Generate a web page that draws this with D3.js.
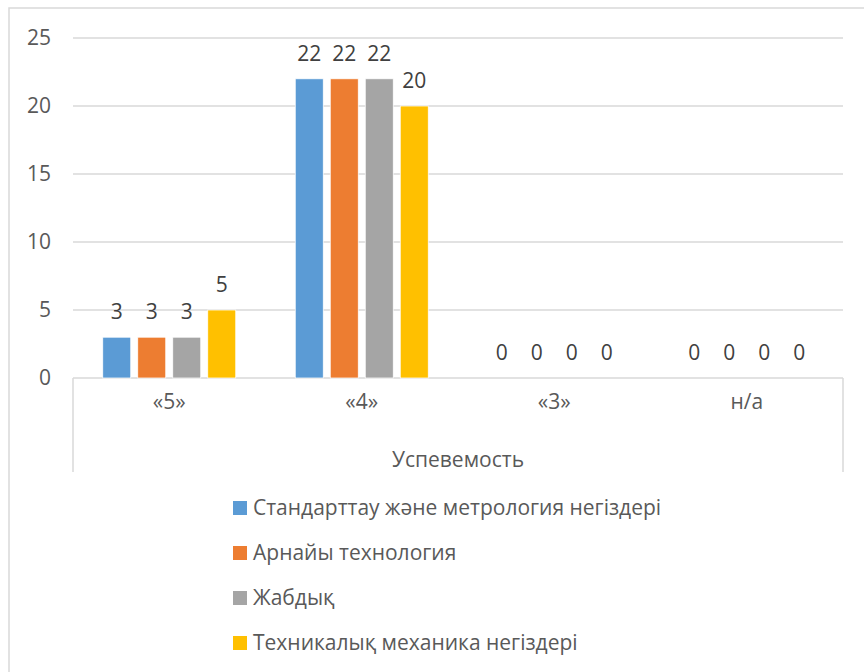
<!DOCTYPE html>
<html>
<head>
<meta charset="utf-8">
<script src="https://cdn.jsdelivr.net/npm/d3@7"></script>
<style>
  body { margin: 0; background: #fff; }
  text { font-family: "Open Sans", sans-serif; fill: #595959; }
</style>
</head>
<body>
<div id="chart"></div>
<script>
// Data
const categories = ["«5»", "«4»", "«3»", "н/а"];
const seriesNames = [
    "Стандарттау және метрология негіздері",
    "Арнайы технология",
    "Жабдық",
    "Техникалық механика негіздері"
];
const standardValues = [3, 22, 0, 0];
const arnaiValues = [3, 22, 0, 0];
const zhabdykValues = [3, 22, 0, 0];
const mechanicsValues = [5, 20, 0, 0];
const yTicks = [0, 5, 10, 15, 20, 25];
const axisTitle = "Успевемость";
const colors = ["#5B9BD5", "#ED7D31", "#A5A5A5", "#FFC000"];

const allValues = [standardValues, arnaiValues, zhabdykValues, mechanicsValues];

const width = 864;
const height = 672;
const plot = { left: 73, right: 843, top: 38, bottom: 378 };
const fontSize = "21px";

const svg = d3.select("#chart")
    .append("svg")
    .attr("width", width)
    .attr("height", height);

svg.append("rect")
    .attr("width", width)
    .attr("height", height)
    .attr("fill", "#fff");

// outer chart border (right / bottom run off the picture)
svg.append("rect")
    .attr("x", 9)
    .attr("y", 8)
    .attr("width", 880)
    .attr("height", 700)
    .attr("fill", "none")
    .attr("stroke", "#d9d9d9")
    .attr("stroke-width", 1.5);

// Scales
const x = d3.scaleBand()
    .domain(categories)
    .range([plot.left, plot.right]);

const x1 = d3.scaleBand()
    .domain(seriesNames)
    .range([0, x.bandwidth()])
    .paddingInner(0.2)
    .paddingOuter(0.85);

const y = d3.scaleLinear()
    .domain([0, 25])
    .range([plot.bottom, plot.top]);

// Gridlines
svg.append("g")
    .selectAll("line")
    .data(yTicks)
    .enter()
    .append("line")
    .attr("x1", plot.left)
    .attr("x2", plot.right)
    .attr("y1", d => y(d))
    .attr("y2", d => y(d))
    .attr("stroke", "#d9d9d9")
    .attr("stroke-width", 1.5);

// Y axis labels
const yAxis = svg.append("g")
    .attr("transform", `translate(${plot.left - 22},0)`)
    .call(d3.axisLeft(y).tickValues(yTicks).tickSize(0).tickPadding(0));
yAxis.select(".domain").remove();
yAxis.selectAll("text")
    .style("font-family", "'Open Sans', sans-serif")
    .style("font-size", fontSize)
    .attr("fill", "#595959");

// Category box below the axis
const boxBottom = 472;
svg.append("g")
    .selectAll("line")
    .data([plot.left, plot.right])
    .enter()
    .append("line")
    .attr("x1", d => d)
    .attr("x2", d => d)
    .attr("y1", plot.bottom)
    .attr("y2", boxBottom)
    .attr("stroke", "#d9d9d9")
    .attr("stroke-width", 1.5);

// X axis labels
const xAxis = svg.append("g")
    .attr("transform", `translate(0,${plot.bottom + 24})`)
    .call(d3.axisBottom(x).tickSize(0).tickPadding(0));
xAxis.select(".domain").remove();
xAxis.selectAll("text")
    .attr("dy", "0.32em")
    .style("font-family", "'Open Sans', sans-serif")
    .style("font-size", fontSize)
    .attr("fill", "#595959");

svg.append("text")
    .attr("x", (plot.left + plot.right) / 2)
    .attr("y", 460)
    .attr("dy", "0.35em")
    .attr("text-anchor", "middle")
    .style("font-size", fontSize)
    .text(axisTitle);

// Bars
const groups = svg.append("g")
    .selectAll("g")
    .data(categories)
    .enter()
    .append("g")
    .attr("transform", d => `translate(${x(d)},0)`);

groups.selectAll("rect")
    .data((c, i) => seriesNames.map((s, j) => ({ s, j, v: allValues[j][i] })))
    .enter()
    .append("rect")
    .attr("x", d => x1(d.s))
    .attr("y", d => y(d.v))
    .attr("width", x1.bandwidth())
    .attr("height", d => y(0) - y(d.v))
    .attr("fill", d => colors[d.j])
    .attr("stroke", "#fff")
    .attr("stroke-width", 0.75);

// Data labels
groups.selectAll("text")
    .data((c, i) => seriesNames.map((s, j) => ({ s, j, v: allValues[j][i] })))
    .enter()
    .append("text")
    .attr("x", d => x1(d.s) + x1.bandwidth() / 2)
    .attr("y", d => y(d.v) - 18)
    .attr("text-anchor", "middle")
    .style("font-size", fontSize)
    .style("fill", "#404040")
    .text(d => d.v);

// Legend
const legend = svg.append("g")
    .selectAll("g")
    .data(seriesNames)
    .enter()
    .append("g")
    .attr("transform", (d, i) => `translate(233,${508 + i * 45})`);

legend.append("rect")
    .attr("x", 0)
    .attr("y", -7)
    .attr("width", 14)
    .attr("height", 14)
    .attr("fill", (d, i) => colors[i]);

legend.append("text")
    .attr("x", 20)
    .attr("y", 0)
    .attr("dy", "0.35em")
    .style("font-size", fontSize)
    .text(d => d);
</script>
</body>
</html>
